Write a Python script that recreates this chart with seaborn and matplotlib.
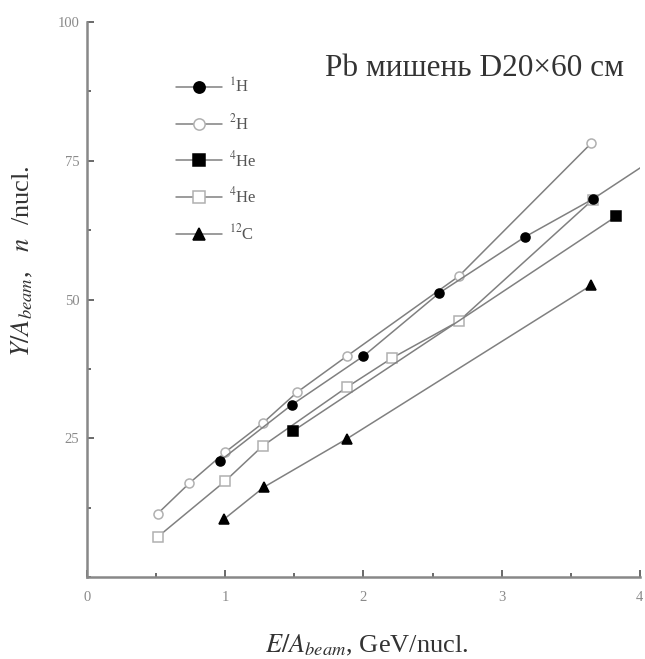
import numpy as np
import pandas as pd
import matplotlib
matplotlib.use("Agg")
import matplotlib.pyplot as plt
from matplotlib.ticker import MultipleLocator, FixedLocator
import seaborn as sns

# ---- data ----
h1_x = [0.96, 1.48, 2.00, 2.55, 3.17, 3.66, 4.30]
h1_y = [20.9, 31.0, 39.8, 51.2, 61.3, 68.1, 78.6]
h2_x = [0.51, 0.74, 1.00, 1.27, 1.52, 1.88, 2.69, 3.65]
h2_y = [11.4, 16.9, 22.5, 27.7, 33.3, 39.8, 54.2, 78.2]
he4f_x = [1.49, 3.83]
he4f_y = [26.3, 65.0]
he4o_x = [0.51, 1.00, 1.27, 1.88, 2.21, 2.69, 3.66]
he4o_y = [7.2, 17.3, 23.6, 34.2, 39.5, 46.1, 68.0]
c12_x = [0.99, 1.28, 1.88, 3.65]
c12_y = [10.4, 16.2, 24.9, 52.6]

labels = [r"$^{1}$H", r"$^{2}$H", r"$^{4}$He", r"$^{4}$He", r"$^{12}$C"]
title = "Pb мишень D20×60 см"
x_ticks = [0, 1, 2, 3, 4]
y_ticks = [25, 50, 75, 100]

sns.set_style("ticks")
plt.rcParams["font.family"] = ["Liberation Serif", "DejaVu Serif"]
plt.rcParams["mathtext.fontset"] = "stix"

fig = plt.figure(figsize=(6.45, 6.59), dpi=100)
ax = fig.add_axes([0.135, 0.1244, 0.857, 0.8422])

line_col = "#808080"
series = [
    (h1_x, h1_y, labels[0], "o", "black", "black", 4),
    (h2_x, h2_y, labels[1], "o", "white", "#b0b0b0", 2),
    (he4f_x, he4f_y, labels[2], "s", "black", "black", 3),
    (he4o_x, he4o_y, labels[3], "s", "white", "#b0b0b0", 2),
    (c12_x, c12_y, labels[4], "^", "black", "black", 3),
]
for xs, ys, lab, mk, fc, ec, z in series:
    df = pd.DataFrame({"x": xs, "y": ys})
    sns.lineplot(data=df, x="x", y="y", ax=ax, sort=False, estimator=None,
                 color=line_col, linewidth=1.1, marker=mk, markersize=6.5,
                 markerfacecolor=fc, markeredgecolor=ec, markeredgewidth=1.1,
                 label=lab, zorder=z)

ax.set_xlim(0, 4)
ax.set_ylim(0, 100)
ax.xaxis.set_major_locator(FixedLocator(x_ticks))
ax.xaxis.set_minor_locator(MultipleLocator(0.5))
ax.yaxis.set_major_locator(FixedLocator(y_ticks))
ax.yaxis.set_minor_locator(MultipleLocator(12.5))
ax.tick_params(which="both", direction="in", color="#505050", labelcolor="#8a8a8a",
               labelsize=10.5)
ax.tick_params(which="major", length=5, width=1.2)
ax.tick_params(which="minor", length=3, width=1.2)
ax.tick_params(axis="x", pad=10)
ax.tick_params(axis="y", pad=5.5)
for s in ["top", "right"]:
    ax.spines[s].set_visible(False)
for s in ["left", "bottom"]:
    ax.spines[s].set_color("#888888")
    ax.spines[s].set_linewidth(1.8)

ax.set_xlabel(r"$E/A_{beam}$, GeV/nucl.", fontsize=19, color="#333333")
ax.set_ylabel(r"$Y/A_{beam}$,   $n$  /nucl.", fontsize=19, color="#333333")
ax.xaxis.set_label_coords(0.505, -0.10)
ax.yaxis.set_label_coords(-0.094, 0.569)

ax.text(0.70, 0.917, title, transform=ax.transAxes, ha="center", va="center",
        fontsize=22.5, color="#333333")

leg = ax.legend(loc="upper left", bbox_to_anchor=(0.148, 0.912), frameon=False,
                handlelength=2.8, labelspacing=1.0, fontsize=12, markerscale=1.25,
                handletextpad=0.4, borderaxespad=0)
for t in leg.get_texts():
    t.set_color("#555555")

fig.savefig("out.png", dpi=100)
